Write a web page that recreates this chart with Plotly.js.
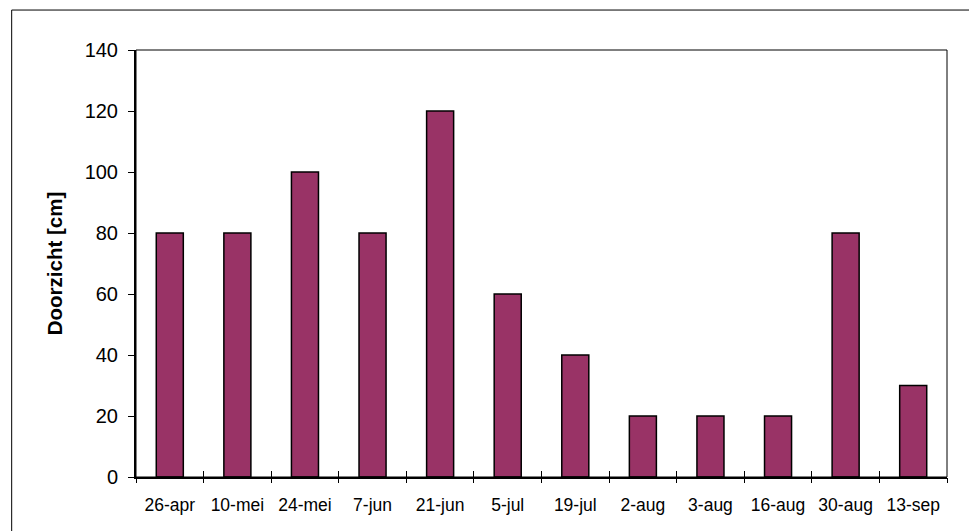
<!DOCTYPE html>
<html>
<head>
<meta charset="utf-8">
<script src="https://cdn.plot.ly/plotly-3.0.1.min.js"></script>
<style>
  html, body { margin: 0; padding: 0; background: #ffffff; }
  #chart { width: 969px; height: 531px; }
</style>
</head>
<body>
<div id="chart"></div>
<script>
// Sampling dates and Secchi depth (doorzicht) in cm
const dates = ['26-apr', '10-mei', '24-mei', '7-jun', '21-jun', '5-jul', '19-jul',
               '2-aug', '3-aug', '16-aug', '30-aug', '13-sep'];
const doorzicht = [80, 80, 100, 80, 120, 60, 40, 20, 20, 20, 80, 30];
const yTicks = [0, 20, 40, 60, 80, 100, 120, 140];

const barColor = '#993366';
const font = 'Arial, "Liberation Sans", sans-serif';

const trace = {
  type: 'bar',
  x: dates,
  y: doorzicht,
  marker: { color: barColor, line: { color: '#000000', width: 1.5 } },
  hoverinfo: 'x+y'
};

// invisible companion trace so the second x axis (outer tick stubs) gets drawn
const ghost = {
  type: 'bar',
  x: dates,
  y: doorzicht.map(() => 0),
  xaxis: 'x2',
  marker: { color: 'rgba(0,0,0,0)' },
  hoverinfo: 'skip',
  showlegend: false
};

const layout = {
  width: 969,
  height: 531,
  margin: { l: 136, r: 22, t: 50, b: 54 },
  paper_bgcolor: '#ffffff',
  plot_bgcolor: '#ffffff',
  showlegend: false,
  bargap: 0.6,
  font: { family: font, color: '#000000' },
  xaxis: {
    type: 'category',
    tickson: 'boundaries',
    ticks: 'inside',
    ticklen: 6,
    tickwidth: 1,
    tickcolor: '#000000',
    showline: true,
    linecolor: '#000000',
    linewidth: 2,
    showgrid: false,
    zeroline: false,
    tickfont: { family: font, size: 17.5, color: '#000000' },
    ticklabelstandoff: 11,
    fixedrange: true
  },
  xaxis2: {
    type: 'category',
    overlaying: 'x',
    side: 'bottom',
    matches: 'x',
    tickson: 'boundaries',
    ticks: 'outside',
    ticklen: 5,
    tickwidth: 1,
    tickcolor: '#000000',
    showticklabels: false,
    showline: false,
    showgrid: false,
    zeroline: false,
    fixedrange: true
  },
  yaxis: {
    range: [0, 140],
    tickvals: yTicks,
    ticktext: yTicks.map(String),
    ticks: 'outside',
    ticklen: 6,
    tickwidth: 1,
    tickcolor: '#000000',
    showline: true,
    linecolor: '#000000',
    linewidth: 2,
    showgrid: false,
    zeroline: false,
    tickfont: { family: font, size: 20, color: '#000000' },
    ticklabelstandoff: 6,
    title: {
      text: '<b>Doorzicht [cm]</b>',
      font: { family: font, size: 20.5, color: '#000000' },
      standoff: 16
    },
    fixedrange: true
  },
  shapes: [
    // thin frame round the plot area
    { type: 'rect', xref: 'paper', yref: 'paper', x0: 0, x1: 1, y0: 0, y1: 1,
      line: { color: '#000000', width: 1 }, layer: 'above' },
    // chart border
    { type: 'rect', xref: 'paper', yref: 'paper', x0: -0.1533, x1: 1.06, y0: -0.15, y1: 1.0936,
      line: { color: '#000000', width: 1 }, layer: 'above' }
  ]
};

Plotly.newPlot('chart', [trace, ghost], layout, { displayModeBar: false });
</script>
</body>
</html>
